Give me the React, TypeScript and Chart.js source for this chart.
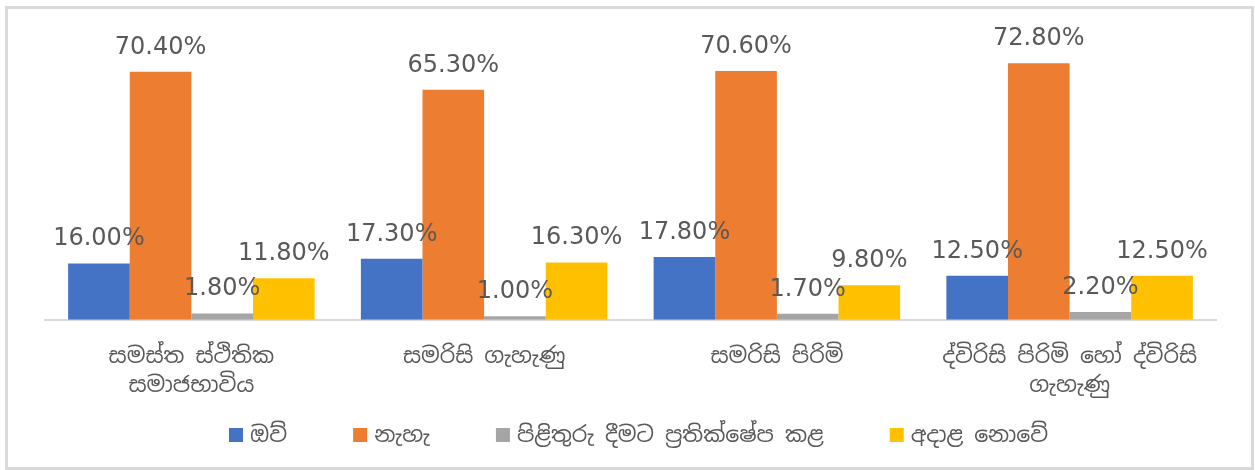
import React, { useEffect, useRef } from "react";
import { Chart, registerables } from "chart.js";

Chart.register(...registerables);

const categories: string[][] = [
  ["සමස්ත ස්ථිතික", "සමාජභාවිය"],
  ["සමරිසි ගැහැණු"],
  ["සමරිසි පිරිමි"],
  ["ද්විරිසි පිරිමි හෝ ද්විරිසි", "ගැහැණු"],
];

const seriesNames = ["ඔව්", "නැහැ", "පිළිතුරු දීමට ප්‍රතික්ෂේප කළ", "අදාළ නොවේ"];
const yesValues = [16.0, 17.3, 17.8, 12.5];
const noValues = [70.4, 65.3, 70.6, 72.8];
const refusedValues = [1.8, 1.0, 1.7, 2.2];
const notApplicableValues = [11.8, 16.3, 9.8, 12.5];
const seriesColors = ["#4472C4", "#ED7D31", "#A5A5A5", "#FFC000"];

const SINHALA_FONT = "'Noto Sans Sinhala', 'Iskoola Pota', 'Noto Sans', 'DejaVu Sans', sans-serif";

const valueLabelPlugin = {
  id: "valueLabels",
  afterDatasetsDraw(chart: any) {
    const ctx = chart.ctx;
    ctx.save();
    ctx.font = "24px 'DejaVu Sans', sans-serif";
    ctx.fillStyle = "#595959";
    ctx.textAlign = "center";
    ctx.textBaseline = "alphabetic";
    chart.data.datasets.forEach((ds: any, i: number) => {
      const meta = chart.getDatasetMeta(i);
      meta.data.forEach((bar: any, j: number) => {
        const v = ds.data[j] as number;
        ctx.fillText(v.toFixed(2) + "%", bar.x, bar.y - 18);
      });
    });
    ctx.restore();
  },
};

const customLegendPlugin = {
  id: "customLegend",
  afterDraw(chart: any) {
    const ctx = chart.ctx;
    const box = 14;
    const boxGap = 7;
    const itemGap = 66;
    const centerY = 426;
    ctx.save();
    ctx.font = "22px " + SINHALA_FONT;
    ctx.textBaseline = "middle";
    ctx.textAlign = "left";
    const items = chart.data.datasets.map((ds: any) => ({
      label: ds.label as string,
      color: ds.backgroundColor as string,
      w: ctx.measureText(ds.label).width,
    }));
    const total =
      items.reduce((s: number, it: any) => s + box + boxGap + it.w, 0) + itemGap * (items.length - 1);
    let x = (chart.chartArea.left + chart.chartArea.right) / 2 + 8 - total / 2;
    items.forEach((it: any) => {
      ctx.fillStyle = it.color;
      ctx.fillRect(x, centerY - box / 2, box, box);
      x += box + boxGap;
      ctx.fillStyle = "#595959";
      ctx.fillText(it.label, x, centerY + 1);
      x += it.w + itemGap;
    });
    ctx.restore();
  },
};

export default function App() {
  const ref = useRef<HTMLCanvasElement | null>(null);
  useEffect(() => {
    if (!ref.current) return;
    const allSeries = [yesValues, noValues, refusedValues, notApplicableValues];
    const chart = new Chart(ref.current, {
      type: "bar",
      data: {
        labels: categories,
        datasets: allSeries.map((vals, i) => ({
          label: seriesNames[i],
          data: vals,
          backgroundColor: seriesColors[i],
          borderWidth: 0,
          categoryPercentage: 0.842,
          barPercentage: 1.0,
        })),
      },
      options: {
        animation: false,
        responsive: false,
        maintainAspectRatio: false,
        layout: { padding: { left: 37, right: 35, top: 29, bottom: 52 } },
        scales: {
          x: {
            grid: { display: false },
            border: { display: true, color: "#d9d9d9", width: 2 },
            ticks: {
              color: "#595959",
              font: { family: SINHALA_FONT, size: 22, lineHeight: 1.3 },
              padding: 15,
              maxRotation: 0,
              autoSkip: false,
            },
          },
          y: {
            display: false,
            min: 0,
            max: 80,
          },
        },
        plugins: {
          legend: { display: false },
          tooltip: { enabled: false },
        },
      },
      plugins: [valueLabelPlugin, customLegendPlugin],
    });
    return () => chart.destroy();
  }, []);

  return (
    <div
      style={{
        position: "absolute",
        left: 5,
        top: 6,
        width: 1243,
        height: 458,
        border: "3px solid #d9d9d9",
        background: "#ffffff",
      }}
    >
      <canvas ref={ref} width={1243} height={458} style={{ display: "block" }} />
    </div>
  );
}
